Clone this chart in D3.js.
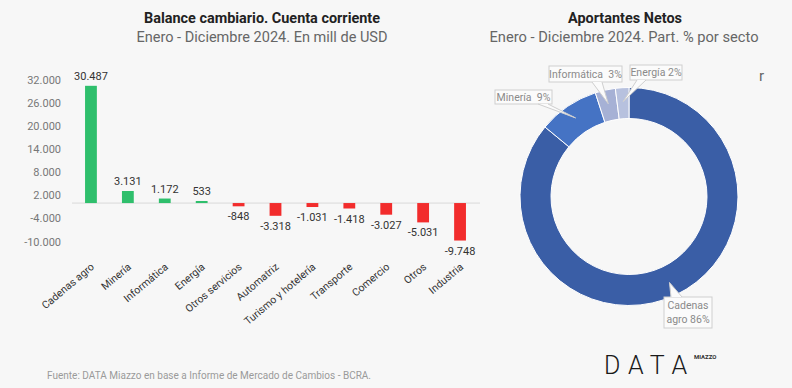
<!DOCTYPE html>
<html><head><meta charset="utf-8">
<script src="https://cdn.jsdelivr.net/npm/d3@7"></script>
<style>
html,body{margin:0;padding:0;background:#f7f7f7;}
svg{display:block;font-family:Roboto,"Noto Sans",sans-serif;}
.pre{white-space:pre;}
</style></head>
<body>
<svg id="c" width="792" height="388"></svg>
<script>
const categories = ["Cadenas agro","Minería","Informática","Energía","Otros servicios","Automatriz","Turismo y hotelería","Transporte","Comercio","Otros","Industria"];
const values = [30487,3131,1172,533,-848,-3318,-1031,-1418,-3027,-5031,-9748];
const yTicks = [-10000,-4000,2000,8000,14000,20000,26000,32000];
const donutLabels = ["Cadenas\nagro 86%","Minería  9%","Informática  3%","Energía 2%"];
const donutShares = [86,9,3,2];
const donutColors = ["#3a5ea6","#4573c4","#a6b1d5","#b7c1de"];

const loc = d3.formatLocale({decimal:",",thousands:".",grouping:[3],currency:["$",""],minus:"-"});
const fmt = loc.format(",d");

const svg = d3.select("#c");
svg.append("rect").attr("width",792).attr("height",388).attr("fill","#f7f7f7");

// ---------- Bar chart ----------
const x = d3.scaleBand().domain(categories).range([72.5,478.5]).paddingInner(0.68).paddingOuter(0.34);
const y = d3.scaleLinear().domain([-10000,32000]).range([241.5,80]);

// titles
svg.append("text").attr("x",262).attr("y",23).attr("text-anchor","middle")
  .attr("font-size",15).attr("font-weight","bold").attr("fill","#222")
  .attr("textLength",236).attr("lengthAdjust","spacingAndGlyphs")
  .text("Balance cambiario. Cuenta corriente");
svg.append("text").attr("x",262).attr("y",42).attr("text-anchor","middle")
  .attr("font-size",15).attr("fill","#666")
  .attr("textLength",251).attr("lengthAdjust","spacingAndGlyphs")
  .text("Enero - Diciembre 2024. En mill de USD");

// y axis
const yAxis = d3.axisLeft(y).tickValues(yTicks).tickFormat(fmt).tickSize(0).tickPadding(0);
const gy = svg.append("g").attr("transform","translate(61,0)").call(yAxis);
gy.select(".domain").remove();
gy.selectAll("text").attr("font-size",11).attr("fill","#777").attr("font-family","Roboto,sans-serif");

// zero line
svg.append("line").attr("x1",72).attr("x2",480).attr("y1",y(0)).attr("y2",y(0))
  .attr("stroke","#d9d9d9").attr("stroke-width",1);

// bars
svg.append("g").selectAll("rect").data(values).join("rect")
  .attr("x",(d,i)=>x(categories[i]))
  .attr("width",x.bandwidth())
  .attr("y",d=>d>=0?y(d):y(0))
  .attr("height",d=>Math.abs(y(d)-y(0)))
  .attr("fill",d=>d>=0?"#2fbf6c":"#f22c2c");

// value labels
svg.append("g").selectAll("text").data(values).join("text")
  .attr("x",(d,i)=>x(categories[i])+x.bandwidth()/2)
  .attr("y",d=>d>=0?y(d)-6:y(d)+14)
  .attr("text-anchor","middle").attr("font-size",11).attr("fill","#333")
  .text(d=>fmt(d));

// category labels
const xAxis = d3.axisBottom(x).tickSize(0).tickPadding(0);
const gx = svg.append("g").attr("transform","translate(0,0)");
gx.selectAll("text").data(categories).join("text")
  .attr("transform",d=>`translate(${x(d)+x.bandwidth()/2+4},268) rotate(-40)`)
  .attr("text-anchor","end").attr("font-size",10.5).attr("fill","#333")
  .text(d=>d);

// ---------- Donut ----------
const cx = 629, cy = 196.5;
svg.append("text").attr("x",625).attr("y",23).attr("text-anchor","middle")
  .attr("font-size",15).attr("font-weight","bold").attr("fill","#222")
  .attr("textLength",114).attr("lengthAdjust","spacingAndGlyphs")
  .text("Aportantes Netos");
svg.append("text").attr("x",624).attr("y",42).attr("text-anchor","middle")
  .attr("font-size",15).attr("fill","#666")
  .attr("textLength",269).attr("lengthAdjust","spacingAndGlyphs")
  .text("Enero - Diciembre 2024. Part. % por secto");
svg.append("text").attr("x",759).attr("y",81).attr("font-size",15).attr("fill","#666").text("r");

const pie = d3.pie().sort(null).value(d=>d).startAngle(0).endAngle(2*Math.PI);
const arcs = pie(donutShares);
const arc = d3.arc().innerRadius(78).outerRadius(109);
const cArc = d3.arc().innerRadius(81).outerRadius(109);
const gd = svg.append("g").attr("transform",`translate(${cx},${cy})`);
gd.selectAll("path").data(arcs).join("path")
  .attr("d",arc).attr("fill",(d,i)=>donutColors[i])
  .attr("stroke","#ffffff").attr("stroke-width",1);

// callouts: box [x,y,w,h], pointer base [x1,y1,x2,y2]
const boxes = [
  {b:[664,297,48,31], base:[671,297,682,297]},
  {b:[495,90,57,14], base:[538,104,548,104]},
  {b:[549,66,73,16], base:[592,82,602,82]},
  {b:[630,65,52,15], base:[637,80,646,80]}
];
const gc = svg.append("g");
arcs.forEach((a,i)=>{
  const [tx,ty] = cArc.centroid(a);
  const tip = [cx+tx, cy+ty];
  const bx = boxes[i];
  const [x0,y0,w,h] = bx.b;
  const [b1x,b1y,b2x,b2y] = bx.base;
  gc.append("rect").attr("x",x0).attr("y",y0).attr("width",w).attr("height",h)
    .attr("fill","#fbfbfb").attr("stroke","#cfcfcf").attr("stroke-width",1);
  gc.append("path").attr("d",`M${b1x},${b1y}L${tip[0]},${tip[1]}L${b2x},${b2y}Z`)
    .attr("fill","#fbfbfb").attr("stroke","none");
  gc.append("path").attr("d",`M${b1x},${b1y}L${tip[0]},${tip[1]}L${b2x},${b2y}`)
    .attr("fill","none").attr("stroke","#cfcfcf").attr("stroke-width",1);
  const lines = donutLabels[i].split("\n");
  const t = gc.append("text").attr("class","pre").attr("text-anchor","middle")
    .attr("font-size",10.5).attr("fill","#8a8a8a");
  const lh = 14;
  const startY = y0 + h/2 - (lines.length-1)*lh/2 + 3.8;
  lines.forEach((l,j)=>{
    t.append("tspan").attr("x",x0+w/2).attr("y",startY+j*lh).text(l);
  });
});

// logo
svg.append("text").attr("x",604).attr("y",374).attr("font-size",25).attr("font-weight",300)
  .attr("fill","#1a1a1a").attr("letter-spacing",6).attr("textLength",89).attr("lengthAdjust","spacing").text("DATA");
svg.append("text").attr("x",694).attr("y",359).attr("font-size",6).attr("font-weight","bold")
  .attr("fill","#333").text("MIAZZO");

// source
svg.append("text").attr("x",47).attr("y",379).attr("font-size",11).attr("fill","#9a9a9a")
  .attr("textLength",324).attr("lengthAdjust","spacingAndGlyphs")
  .text("Fuente: DATA Miazzo en base a Informe de Mercado de Cambios - BCRA.");
</script>
</body></html>
